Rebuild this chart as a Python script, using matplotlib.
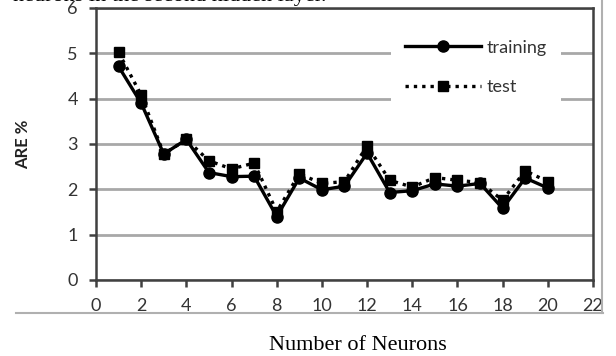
import matplotlib
matplotlib.use("Agg")
import matplotlib.pyplot as plt
from matplotlib.lines import Line2D

# data
neurons = list(range(1, 21))
training = [4.71, 3.90, 2.78, 3.10, 2.37, 2.28, 2.29, 1.40, 2.25, 1.99,
            2.07, 2.80, 1.93, 1.97, 2.12, 2.07, 2.13, 1.58, 2.25, 2.03]
test = [5.02, 4.08, 2.78, 3.10, 2.63, 2.45, 2.58, 1.51, 2.34, 2.13,
        2.17, 2.96, 2.20, 2.05, 2.26, 2.20, 2.15, 1.76, 2.41, 2.17]
x_ticks = list(range(0, 23, 2))
y_ticks = list(range(0, 7))

sans = ["Lato", "DejaVu Sans"]
serif = ["Liberation Serif", "DejaVu Serif"]

fig = plt.figure(figsize=(6.16, 3.56), dpi=100)
ax = fig.add_axes([96 / 616, 1 - 280 / 356, 497 / 616, 272 / 356])

ax.plot(neurons, training, color="black", lw=2.4, marker="o", ms=8,
        label="training", zorder=3)
ax.plot(neurons, test, color="black", lw=2.4, ls=(0, (1, 1.5)), marker="s",
        ms=7, label="test", zorder=3)

ax.set_xlim(0, 22)
ax.set_ylim(0, 6)
ax.set_xticks(x_ticks)
ax.set_yticks(y_ticks)
ax.yaxis.grid(True, color="#a8a8a8", lw=2)
ax.set_axisbelow(True)
for s in ax.spines.values():
    s.set_color("#404040")
    s.set_linewidth(1.8)
ax.tick_params(direction="out", length=5, width=1.8, color="#404040",
               labelcolor="#333333", labelsize=13, pad=8)
for lab in ax.get_xticklabels() + ax.get_yticklabels():
    lab.set_family(sans)

ax.set_ylabel("ARE %", family=sans, fontweight="bold", fontsize=12,
              color="#222222", labelpad=26)

leg = ax.legend(loc="upper left", bbox_to_anchor=(0.575, 0.97), frameon=True,
                handlelength=4.2, handletextpad=0.3, labelspacing=1.3,
                borderpad=0.8, prop={"family": sans, "size": 13})
leg.get_frame().set_facecolor("white")
leg.get_frame().set_edgecolor("none")
leg.get_frame().set_alpha(1)
for t in leg.get_texts():
    t.set_color("#333333")

fig.text(358 / 616, 1 - 350 / 356, "Number of Neurons", family=serif,
         fontsize=16, ha="center", va="baseline")
fig.text(13 / 616, 1 - 1 / 356, "neurons in the second hidden layer.",
         family=serif, fontsize=16, ha="left", va="baseline")

# chart area border (bottom and right)
fig.add_artist(Line2D([16 / 616, 603 / 616], [1 - 313 / 356] * 2,
                      color="#b0b0b0", lw=1.5))
fig.add_artist(Line2D([602 / 616] * 2, [1 - 313 / 356, 1.0],
                      color="#b0b0b0", lw=1.5))

fig.savefig("out.png", dpi=100)
